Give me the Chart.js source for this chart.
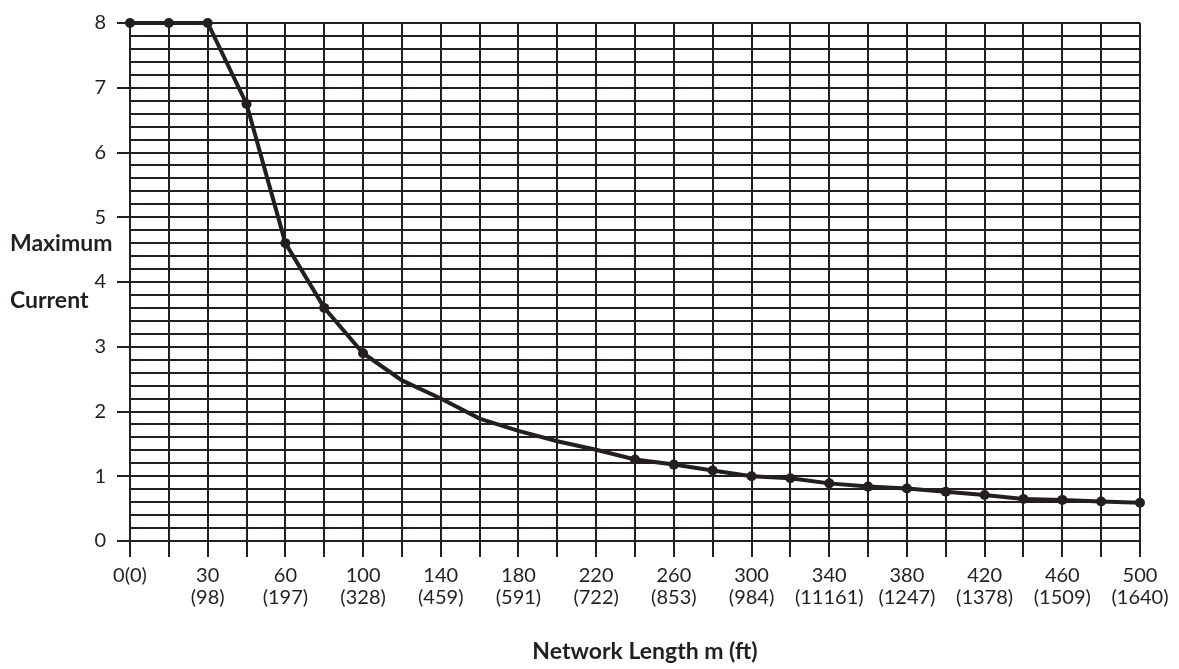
<!DOCTYPE html>
<html>
<head>
<meta charset="utf-8">
<script src="https://cdn.jsdelivr.net/npm/chart.js@4.4.1/dist/chart.umd.min.js"></script>
<style>
  html, body { margin: 0; padding: 0; background: #ffffff; }
  #wrap { position: relative; width: 1179px; height: 669px; }
</style>
</head>
<body>
<div id="wrap"><canvas id="c"></canvas></div>
<script>
// Network length categories (m)
const lengthsM = [0, 15, 30, 45, 60, 80, 100, 120, 140, 160, 180, 200, 220, 240, 260, 280, 300, 320, 340, 360, 380, 400, 420, 440, 460, 480, 500];
// Tick labels shown under every other gridline (index -> label lines)
const tickLabelIndex = [0, 2, 4, 6, 8, 10, 12, 14, 16, 18, 20, 22, 24, 26];
const tickLabelLines = [
  ["0(0)"], ["30", "(98)"], ["60", "(197)"], ["100", "(328)"], ["140", "(459)"],
  ["180", "(591)"], ["220", "(722)"], ["260", "(853)"], ["300", "(984)"],
  ["340", "(11161)"], ["380", "(1247)"], ["420", "(1378)"], ["460", "(1509)"], ["500", "(1640)"]
];
// Maximum current values
const maxCurrent = [8, 8, 8, 6.75, 4.6, 3.6, 2.9, 2.48, 2.2, 1.89, 1.7, 1.54, 1.41, 1.26, 1.18, 1.09, 1.0, 0.97, 0.89, 0.84, 0.81, 0.76, 0.71, 0.65, 0.635, 0.61, 0.59];
const yTitleLines = ["Maximum", "Current"];
const xTitle = "Network Length m (ft)";

const INK = '#231f20';
const FONT = 'Lato, "Open Sans", sans-serif';
const isInt = v => Math.abs(v - Math.round(v)) < 1e-6;

const titlesPlugin = {
  id: 'titles',
  afterDraw(chart) {
    const ctx = chart.ctx;
    ctx.save();
    ctx.fillStyle = INK;
    ctx.font = 'bold 23px ' + FONT;
    ctx.textBaseline = 'middle';
    ctx.textAlign = 'left';
    ctx.fillText(yTitleLines[0], 10, 244);
    ctx.fillText(yTitleLines[1], 10, 301);
    ctx.textAlign = 'center';
    ctx.fillText(xTitle, 645, 652);
    ctx.restore();
  }
};

new Chart(document.getElementById('c'), {
  type: 'line',
  data: {
    labels: lengthsM,
    datasets: [{
      data: maxCurrent,
      borderColor: INK,
      backgroundColor: INK,
      borderWidth: 4,
      pointRadius: ctx => (ctx.dataIndex >= 7 && ctx.dataIndex <= 12) ? 0 : 5,
      pointBackgroundColor: INK,
      pointBorderWidth: 0,
      tension: 0,
      fill: false,
      clip: false
    }]
  },
  options: {
    responsive: true,
    maintainAspectRatio: false,
    animation: false,
    devicePixelRatio: 1,
    layout: { padding: { top: 20, right: 39, bottom: 0, left: 0 } },
    plugins: { legend: { display: false }, tooltip: { enabled: false }, title: { display: false } },
    scales: {
      x: {
        type: 'category',
        offset: false,
        afterFit(scale) { scale.height = 128; },
        grid: { color: INK, lineWidth: 2, tickLength: 16, drawTicks: true, tickColor: INK, offset: false },
        border: { color: INK, width: 2 },
        ticks: {
          autoSkip: false,
          maxRotation: 0,
          minRotation: 0,
          padding: 8,
          color: INK,
          font: { family: FONT, size: 20, lineHeight: 1.1 },
          callback: function(value, index) {
            const k = tickLabelIndex.indexOf(index);
            return k >= 0 ? tickLabelLines[k] : '';
          }
        }
      },
      y: {
        type: 'linear',
        min: 0,
        max: 8,
        afterFit(scale) { scale.width = 130; },
        grid: {
          color: INK,
          lineWidth: 2,
          tickLength: 13,
          tickColor: ctx => (ctx.tick && isInt(ctx.tick.value)) ? INK : 'rgba(0,0,0,0)'
        },
        border: { color: INK, width: 2 },
        ticks: {
          stepSize: 0.2,
          autoSkip: false,
          padding: 11,
          color: INK,
          font: { family: FONT, size: 20 },
          callback: v => isInt(v) ? String(Math.round(v)) : ''
        }
      }
    }
  },
  plugins: [titlesPlugin]
});
</script>
</body>
</html>
